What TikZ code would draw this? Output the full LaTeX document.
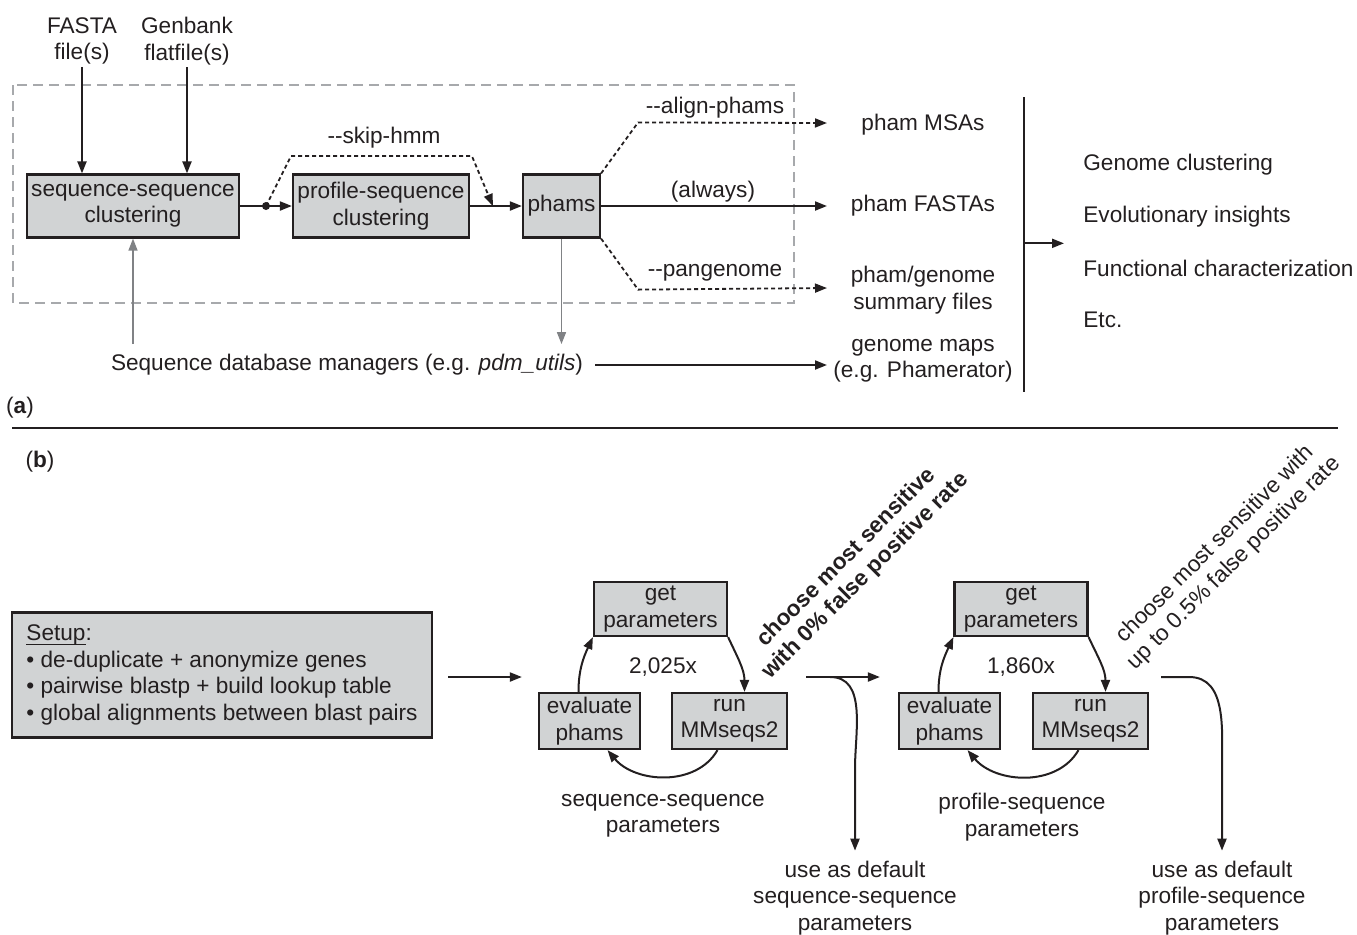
\documentclass[tikz,border=0pt]{standalone}
\usepackage{fontspec}
\setmainfont{Liberation Sans}
\usetikzlibrary{arrows.meta,calc}
\definecolor{BoxGray}{HTML}{D1D3D4}
\definecolor{InkDark}{HTML}{231F20}
\definecolor{FrameGray}{HTML}{A7A9AC}
\definecolor{LinkGray}{HTML}{808285}
\newcommand\ulword[1]{\setbox0=\hbox{#1}\rlap{\rule[-2pt]{\wd0}{0.6pt}}\box0}

\begin{document}
\begin{tikzpicture}[
  x=0.5pt,y=-0.5pt,
  every node/.style={font=\fontsize{11.3}{13.2}\selectfont,align=center,text=InkDark,inner sep=1pt},
  box/.style={draw=InkDark,fill=BoxGray,line width=1.1pt,minimum height=31.5pt},
  loopbox/.style={box,minimum height=28pt},
  arr/.style={-{Triangle[length=6pt,width=4.5pt]},line width=1pt,color=InkDark},
  grayarr/.style={-{Triangle[length=6pt,width=4.5pt]},line width=0.8pt,color=LinkGray},
  opt/.style={arr,dash pattern=on 2pt off 1.5pt,line width=0.9pt},
  frame/.style={draw=FrameGray,line width=0.8pt,dash pattern=on 5pt off 3pt},
  slanted/.style={rotate=45,inner sep=0pt}
]
\useasboundingbox (0,0) rectangle (1357,934);

% (a) pipeline
\node (fasta) at (82,41) {FASTA\\file(s)};
\node (genbank) at (187,41) {Genbank\\flatfile(s)};
\draw[frame] (13,85) rectangle (794,303);
\node[box,minimum width=106pt] (sscl) at (133,206) {sequence-sequence\\clustering};
\node[box,minimum width=88pt] (pscl) at (381,206) {profile-sequence\\clustering};
\node[box,minimum width=38.5pt] (phams) at (561.5,206) {phams};
\draw[arr] (fasta.south) -- (fasta.south |- sscl.north);
\draw[arr] (genbank.south) -- (genbank.south |- sscl.north);

\coordinate (fork) at ($(sscl.east)!0.5!(pscl.west)$);
\coordinate (join) at ($(pscl.east)!0.44!(phams.west)$);
\draw[arr] (sscl.east) -- (pscl.west);
\fill[InkDark] (fork) circle (2pt);
\draw[opt] (fork) -- ++(25,-50) -- ($(join)+(-21,-50)$) -- (join);
\node (skip) at (384,138) {-{}-skip-hmm};
\draw[arr] (pscl.east) -- (phams.west);

% outputs
\node (msa) at (923,125) {pham MSAs};
\node (fastas) at (923,206) {pham FASTAs};
\node (summ) at (923,290) {pham/genome\\summary files};
\node (maps) at (923,361) {genome maps\\(e.g. Phamerator)};
\coordinate (tipmsa) at (827,123);
\coordinate (tipfa) at (827,206);
\coordinate (tipsum) at (827,288);
\coordinate (tipmap) at (827,365);
\draw[opt] (phams.north east) -- ++(37,-51) -- (tipmsa);
\draw[arr] (phams.east) -- (tipfa);
\draw[opt] (phams.south east) -- ++(37,51) -- (tipsum);
\node (alignlbl) at (715,108) {-{}-align-phams};
\node (alwayslbl) at (713,192) {(always)};
\node (panlbl) at (715,273) {-{}-pangenome};

\node (db) at (347,365) {Sequence database managers (e.g. \textit{pdm\_utils})};
\draw[arr] ($(db.east)+(10,0)$) -- (tipmap);
\draw[grayarr,shorten <=4pt] (sscl.south |- db.north) -- (sscl.south);
\draw[grayarr,shorten >=4pt] (phams.south) -- (phams.south |- db.north);

% downstream uses
\coordinate (bartop) at (1024,97);
\coordinate (barbot) at (1024,392);
\draw[line width=1pt,InkDark] (bartop) -- (barbot);
\draw[arr] ($(bartop)!0.496!(barbot)$) -- ++(40,0);
\node[anchor=west] (gc) at (1081,165) {Genome clustering};
\node[anchor=west] (evo) at (1081,217) {Evolutionary insights};
\node[anchor=west] (fchar) at (1081,268) {Functional characterization};
\node[anchor=west] (etc) at (1081,320) {Etc.};

\node (lbla) at (20,408) {(\textbf{a})};
\draw[line width=1pt,InkDark] (12,428) -- (1338,428);
\node (lblb) at (40,462) {(\textbf{b})};

% (b) parameter sweeps
\node[box,minimum width=210pt,minimum height=62.5pt,align=left,inner sep=4pt] (setup) at (222,675)
  {\ulword{Setup}:\\• de-duplicate + anonymize genes\\• pairwise blastp + build lookup table\\• global alignments between blast pairs};

\node[loopbox,minimum width=66.5pt,minimum height=27pt] (get1) at (660.5,609) {get\\parameters};
\node[loopbox,minimum width=50.5pt] (eval1) at (589.5,721) {evaluate\\phams};
\node[loopbox,minimum width=57.5pt] (run1) at (729.5,721) {run\\MMseqs2};
\node (count1) at (663,667) {2,025x};
\node (ssparam) at (663,816) {sequence-sequence\\parameters};
\draw[arr] ($(eval1.north)+(-11,0)$) to[out=90,in=-115] (get1.south west);
\draw[arr] (get1.south east) to[out=-65,in=90] ($(run1.north)+(15,0)$);
\draw[arr] ($(run1.south)+(-12,0)$) to[out=-120,in=-50] ($(eval1.south)+(18,0)$);

\node[loopbox,minimum width=66.5pt,minimum height=27pt] (get2) at (1021,609) {get\\parameters};
\node[loopbox,minimum width=50.5pt] (eval2) at (949.5,721) {evaluate\\phams};
\node[loopbox,minimum width=57.5pt] (run2) at (1090.5,721) {run\\MMseqs2};
\node (count2) at (1021,667) {1,860x};
\node (psparam) at (1022,817) {profile-sequence\\parameters};
\draw[arr] ($(eval2.north)+(-11,0)$) to[out=90,in=-115] (get2.south west);
\draw[arr] (get2.south east) to[out=-65,in=90] ($(run2.north)+(15,0)$);
\draw[arr] ($(run2.south)+(-12,0)$) to[out=-120,in=-50] ($(eval2.south)+(18,0)$);

\node[slanted,font=\fontsize{11.3}{13.2}\selectfont\bfseries] (pick1) at (856,567) {choose most sensitive\\with 0\% false positive rate};
\node[slanted] (pick2) at (1225,554) {choose most sensitive with\\up to 0.5\% false positive rate};

\node (use1) at (855,898) {use as default\\sequence-sequence\\parameters};
\node (use2) at (1222,898) {use as default\\profile-sequence\\parameters};

\coordinate (s0) at ($(setup.east)+(15,2)$);
\draw[arr] (s0) -- ($(eval1.west |- s0)+(-16,0)$);
\coordinate (o1) at ($(run1.east |- s0)+(18,0)$);
\draw[arr] (o1) -- ($(eval2.west |- o1)+(-18,0)$);
\draw[arr,shorten >=4pt] ($(o1)+(24,0)$) to[out=0,in=90] ($(use1.north)+(0,-90)$) -- (use1.north);
\coordinate (o2) at ($(run2.east |- s0)+(12,0)$);
\draw[arr,shorten >=4pt] (o2) -- ++(28,0) to[out=0,in=90] ($(use2.north)+(0,-90)$) -- (use2.north);
\end{tikzpicture}
\end{document}
